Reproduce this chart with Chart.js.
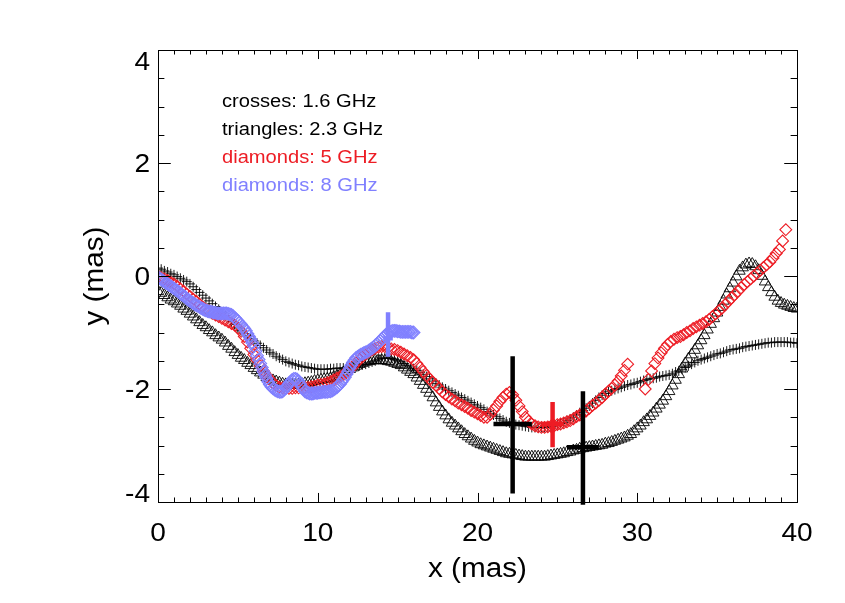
<!DOCTYPE html>
<html><head><meta charset="utf-8">
<script src="https://cdn.jsdelivr.net/npm/chart.js@4"></script>
<style>html,body{margin:0;padding:0;background:#fff;}canvas{display:block;}</style>
</head><body>
<canvas id="c" width="845" height="603"></canvas>
<script>
// ---------------- data ----------------
const xTicks = [0, 10, 20, 30, 40];
const xTickLabels = ['0', '10', '20', '30', '40'];
const yTicks = [-4, -2, 0, 2, 4];
const yTickLabels = ['-4', '-2', '0', '2', '4'];
const xTitle = 'x (mas)';
const yTitle = 'y (mas)';
const legendLines = ['crosses: 1.6 GHz', 'triangles: 2.3 GHz', 'diamonds: 5 GHz', 'diamonds: 8 GHz'];

// 1.6 GHz (crosses) and 2.3 GHz (triangles) read at the same x positions
const blackX = [0,0.2,0.4,0.6,0.8,1,1.2,1.4,1.6,1.8,
2,2.2,2.4,2.6,2.8,3,3.2,3.4,3.6,3.8,
4,4.2,4.4,4.6,4.8,5,5.2,5.4,5.6,5.8,
6,6.2,6.4,6.6,6.8,7,7.2,7.4,7.6,7.8,
8,8.2,8.4,8.6,8.8,9,9.2,9.4,9.6,9.8,
10,10.2,10.4,10.6,10.8,11,11.2,11.4,11.6,11.8,
12,12.2,12.4,12.6,12.8,13,13.2,13.4,13.6,13.8,
14,14.2,14.4,14.6,14.8,15,15.2,15.4,15.6,15.8,
16,16.2,16.4,16.6,16.8,17,17.2,17.4,17.6,17.8,
18,18.2,18.4,18.6,18.8,19,19.2,19.4,19.6,19.8,
20,20.2,20.4,20.6,20.8,21,21.2,21.4,21.6,21.8,
22,22.2,22.4,22.6,22.8,23,23.2,23.4,23.6,23.8,
24,24.2,24.4,24.6,24.8,25,25.2,25.4,25.6,25.8,
26,26.2,26.4,26.6,26.8,27,27.2,27.4,27.6,27.8,
28,28.2,28.4,28.6,28.8,29,29.2,29.4,29.6,29.8,
30,30.2,30.4,30.6,30.8,31,31.2,31.4,31.6,31.8,
32,32.2,32.4,32.6,32.8,33,33.2,33.4,33.6,33.8,
34,34.2,34.4,34.6,34.8,35,35.2,35.4,35.6,35.8,
36,36.2,36.4,36.6,36.8,37,37.2,37.4,37.6,37.8,
38,38.2,38.4,38.6,38.8,39,39.2,39.4,39.6,39.8,
40];
const crossY = [0.14,0.12,0.09,0.07,0.04,0.02,-0.01,-0.04,-0.07,-0.1,
-0.14,-0.19,-0.24,-0.29,-0.34,-0.39,-0.44,-0.49,-0.54,-0.59,
-0.64,-0.7,-0.75,-0.81,-0.86,-0.92,-0.97,-1.02,-1.06,-1.11,
-1.15,-1.19,-1.23,-1.27,-1.31,-1.35,-1.38,-1.42,-1.45,-1.48,
-1.51,-1.53,-1.55,-1.57,-1.58,-1.6,-1.61,-1.62,-1.63,-1.64,
-1.65,-1.65,-1.65,-1.65,-1.64,-1.64,-1.63,-1.63,-1.63,-1.62,
-1.62,-1.61,-1.6,-1.59,-1.57,-1.56,-1.54,-1.52,-1.5,-1.48,
-1.46,-1.45,-1.45,-1.46,-1.48,-1.5,-1.52,-1.55,-1.58,-1.61,
-1.64,-1.67,-1.71,-1.74,-1.78,-1.82,-1.86,-1.9,-1.93,-1.97,
-2.0,-2.03,-2.06,-2.09,-2.12,-2.15,-2.18,-2.21,-2.24,-2.27,
-2.3,-2.33,-2.36,-2.4,-2.43,-2.46,-2.49,-2.52,-2.55,-2.58,
-2.6,-2.62,-2.63,-2.64,-2.65,-2.66,-2.67,-2.68,-2.68,-2.68,
-2.68,-2.68,-2.67,-2.66,-2.65,-2.63,-2.61,-2.59,-2.56,-2.53,
-2.5,-2.46,-2.42,-2.38,-2.34,-2.3,-2.25,-2.2,-2.15,-2.11,
-2.08,-2.05,-2.03,-2.01,-1.99,-1.97,-1.95,-1.93,-1.92,-1.9,
-1.89,-1.87,-1.85,-1.83,-1.82,-1.81,-1.8,-1.78,-1.77,-1.76,
-1.75,-1.73,-1.7,-1.68,-1.65,-1.62,-1.59,-1.56,-1.53,-1.5,
-1.48,-1.46,-1.44,-1.42,-1.4,-1.38,-1.37,-1.35,-1.33,-1.31,
-1.3,-1.29,-1.28,-1.26,-1.25,-1.24,-1.23,-1.22,-1.21,-1.2,
-1.19,-1.18,-1.18,-1.17,-1.17,-1.17,-1.17,-1.17,-1.18,-1.18,
-1.19];
const triY = [-0.27,-0.3,-0.34,-0.38,-0.42,-0.45,-0.49,-0.53,-0.58,-0.62,
-0.67,-0.72,-0.77,-0.82,-0.87,-0.91,-0.96,-1.0,-1.05,-1.09,
-1.13,-1.18,-1.24,-1.29,-1.35,-1.4,-1.45,-1.49,-1.54,-1.58,
-1.63,-1.67,-1.71,-1.75,-1.79,-1.82,-1.85,-1.87,-1.89,-1.91,
-1.92,-1.93,-1.93,-1.93,-1.92,-1.91,-1.9,-1.89,-1.88,-1.86,
-1.85,-1.84,-1.83,-1.82,-1.81,-1.79,-1.77,-1.74,-1.71,-1.68,
-1.65,-1.62,-1.59,-1.56,-1.54,-1.52,-1.51,-1.5,-1.49,-1.49,
-1.49,-1.5,-1.51,-1.52,-1.54,-1.56,-1.58,-1.62,-1.66,-1.7,
-1.74,-1.8,-1.86,-1.93,-2.0,-2.07,-2.15,-2.24,-2.32,-2.4,
-2.47,-2.54,-2.6,-2.65,-2.7,-2.75,-2.8,-2.84,-2.88,-2.92,
-2.95,-2.98,-3.0,-3.02,-3.04,-3.06,-3.08,-3.1,-3.12,-3.14,
-3.15,-3.16,-3.17,-3.18,-3.19,-3.2,-3.2,-3.2,-3.2,-3.2,
-3.2,-3.2,-3.19,-3.18,-3.17,-3.16,-3.15,-3.14,-3.12,-3.11,
-3.09,-3.08,-3.06,-3.05,-3.04,-3.03,-3.02,-3.01,-3.0,-2.99,
-2.97,-2.96,-2.94,-2.92,-2.9,-2.88,-2.86,-2.83,-2.8,-2.75,
-2.7,-2.65,-2.59,-2.54,-2.48,-2.42,-2.35,-2.28,-2.21,-2.13,
-2.04,-1.94,-1.84,-1.74,-1.64,-1.55,-1.47,-1.39,-1.31,-1.23,
-1.14,-1.05,-0.95,-0.85,-0.75,-0.65,-0.55,-0.44,-0.33,-0.22,
-0.12,-0.01,0.09,0.15,0.2,0.22,0.21,0.17,0.1,0.0,
-0.1,-0.2,-0.29,-0.37,-0.44,-0.48,-0.51,-0.53,-0.55,-0.57,
-0.58];

// 5 GHz (red diamonds): two stretches, 0-29.4 and 30.5-39.3
const redX = [0,0.2,0.4,0.6,0.8,1,1.2,1.4,1.6,1.8,
2,2.2,2.4,2.6,2.8,3,3.2,3.4,3.6,3.8,
4,4.2,4.4,4.6,4.8,5,5.2,5.4,5.6,5.8,
6,6.2,6.4,6.6,6.8,7,7.2,7.4,7.6,7.8,
8,8.2,8.4,8.6,8.8,9,9.2,9.4,9.6,9.8,
10,10.2,10.4,10.6,10.8,11,11.2,11.4,11.6,11.8,
12,12.2,12.4,12.6,12.8,13,13.2,13.4,13.6,13.8,
14,14.2,14.4,14.6,14.8,15,15.2,15.4,15.6,15.8,
16,16.2,16.4,16.6,16.8,17,17.2,17.4,17.6,17.8,
18,18.2,18.4,18.6,18.8,19,19.2,19.4,19.6,19.8,
20,20.2,20.4,20.6,20.8,21,21.2,21.4,21.6,21.8,
22,22.2,22.4,22.6,22.8,23,23.2,23.4,23.6,23.8,
24,24.2,24.4,24.6,24.8,25,25.2,25.4,25.6,25.8,
26,26.2,26.4,26.6,26.8,27,27.2,27.4,27.6,27.8,
28,28.2,28.4,28.6,28.8,29,29.2,29.4,
30.5,30.7,30.9,31.1,31.3,31.5,31.7,31.9,32.1,32.3,
32.5,32.7,32.9,33.1,33.3,33.5,33.7,33.9,34.1,34.3,
34.5,34.7,34.9,35.1,35.3,35.5,35.7,35.9,36.1,36.3,
36.5,36.7,36.9,37.1,37.3,37.5,37.7,37.9,38.1,38.3,
38.5,38.7,38.9,39.1,39.3];
const redY = [0,-0.03,-0.05,-0.08,-0.11,-0.14,-0.18,-0.23,-0.27,-0.32,
-0.36,-0.41,-0.45,-0.5,-0.55,-0.59,-0.62,-0.66,-0.69,-0.72,
-0.75,-0.78,-0.81,-0.84,-0.87,-0.92,-0.98,-1.07,-1.17,-1.28,
-1.39,-1.49,-1.59,-1.68,-1.76,-1.83,-1.89,-1.94,-1.97,-1.98,
-1.99,-1.99,-1.99,-1.98,-1.98,-1.97,-1.97,-1.97,-1.96,-1.95,
-1.93,-1.92,-1.91,-1.89,-1.87,-1.84,-1.81,-1.78,-1.75,-1.71,
-1.66,-1.6,-1.54,-1.48,-1.43,-1.38,-1.34,-1.31,-1.28,-1.26,
-1.25,-1.25,-1.27,-1.29,-1.3,-1.32,-1.35,-1.38,-1.41,-1.44,
-1.48,-1.55,-1.62,-1.69,-1.76,-1.82,-1.88,-1.93,-1.99,-2.05,
-2.1,-2.14,-2.18,-2.21,-2.25,-2.28,-2.31,-2.34,-2.38,-2.41,
-2.44,-2.47,-2.5,-2.5,-2.45,-2.37,-2.3,-2.22,-2.15,-2.09,
-2.06,-2.1,-2.2,-2.3,-2.4,-2.5,-2.57,-2.62,-2.65,-2.67,
-2.68,-2.68,-2.67,-2.66,-2.65,-2.63,-2.62,-2.6,-2.58,-2.56,
-2.53,-2.49,-2.46,-2.43,-2.39,-2.34,-2.29,-2.25,-2.2,-2.15,
-2.09,-2.04,-1.99,-1.93,-1.86,-1.77,-1.67,-1.56,
-2.0,-1.83,-1.68,-1.55,-1.45,-1.36,-1.28,-1.21,-1.16,-1.12,
-1.09,-1.07,-1.04,-1.0,-0.97,-0.93,-0.9,-0.87,-0.84,-0.81,
-0.77,-0.72,-0.67,-0.62,-0.57,-0.51,-0.45,-0.39,-0.33,-0.27,
-0.21,-0.15,-0.1,-0.05,0.0,0.05,0.1,0.15,0.2,0.25,
0.32,0.4,0.47,0.62,0.82];

// 8 GHz (blue diamonds)
const blueX = [0,0.1,0.2,0.3,0.4,0.5,0.6,0.7,0.8,0.9,
1,1.1,1.2,1.3,1.4,1.5,1.6,1.7,1.8,1.9,
2,2.1,2.2,2.3,2.4,2.5,2.6,2.7,2.8,2.9,
3,3.1,3.2,3.3,3.4,3.5,3.6,3.7,3.8,3.9,
4,4.1,4.2,4.3,4.4,4.5,4.6,4.7,4.8,4.9,
5,5.1,5.2,5.3,5.4,5.5,5.6,5.7,5.8,5.9,
6,6.1,6.2,6.3,6.4,6.5,6.6,6.7,6.8,6.9,
7,7.1,7.2,7.3,7.4,7.5,7.6,7.7,7.8,7.9,
8,8.1,8.2,8.3,8.4,8.5,8.6,8.7,8.8,8.9,
9,9.1,9.2,9.3,9.4,9.5,9.6,9.7,9.8,9.9,
10,10.1,10.2,10.3,10.4,10.5,10.6,10.7,10.8,10.9,
11,11.1,11.2,11.3,11.4,11.5,11.6,11.7,11.8,11.9,
12,12.1,12.2,12.3,12.4,12.5,12.6,12.7,12.8,12.9,
13,13.1,13.2,13.3,13.4,13.5,13.6,13.7,13.8,13.9,
14,14.1,14.2,14.3,14.4,14.5,14.6,14.7,14.8,14.9,
15,15.1,15.2,15.3,15.4,15.5,15.6,15.7,15.8,15.9,
16];
const blueY = [-0.03,-0.04,-0.06,-0.08,-0.1,-0.12,-0.14,-0.16,-0.18,-0.2,
-0.22,-0.24,-0.26,-0.28,-0.31,-0.33,-0.35,-0.37,-0.4,-0.42,
-0.44,-0.46,-0.48,-0.5,-0.52,-0.53,-0.55,-0.57,-0.58,-0.6,
-0.61,-0.62,-0.63,-0.63,-0.64,-0.65,-0.65,-0.66,-0.66,-0.66,
-0.66,-0.66,-0.66,-0.66,-0.67,-0.68,-0.69,-0.71,-0.74,-0.77,
-0.8,-0.83,-0.86,-0.9,-0.93,-0.97,-1.02,-1.07,-1.12,-1.18,
-1.24,-1.33,-1.41,-1.48,-1.55,-1.62,-1.69,-1.75,-1.81,-1.87,
-1.92,-1.96,-1.99,-2.01,-2.03,-2.04,-2.05,-2.05,-2.04,-2.01,
-1.98,-1.94,-1.9,-1.87,-1.84,-1.82,-1.82,-1.83,-1.86,-1.91,
-1.96,-2.0,-2.04,-2.06,-2.07,-2.08,-2.08,-2.08,-2.07,-2.07,
-2.07,-2.06,-2.06,-2.05,-2.05,-2.05,-2.05,-2.04,-2.04,-2.03,
-2.01,-1.99,-1.97,-1.94,-1.91,-1.87,-1.83,-1.79,-1.74,-1.69,
-1.63,-1.58,-1.53,-1.49,-1.45,-1.43,-1.41,-1.39,-1.38,-1.36,
-1.35,-1.34,-1.32,-1.3,-1.28,-1.26,-1.23,-1.21,-1.18,-1.15,
-1.12,-1.09,-1.06,-1.03,-1.01,-0.99,-0.98,-0.97,-0.97,-0.97,
-0.98,-0.98,-0.99,-0.99,-0.99,-0.99,-0.99,-0.99,-0.99,-1.0,
-1.0];

// error bars: centre, x extent, y extent, and which band they belong to
const errX    = [22.2, 26.6, 24.7, 14.4];
const errY    = [-2.62, -3.03, -2.62, -1.1];
const errXLo  = [21.0, 25.6, 24.0, 14.1];
const errXHi  = [23.4, 27.6, 25.4, 14.7];
const errYLo  = [-3.85, -4.05, -3.03, -1.43];
const errYHi  = [-1.42, -2.04, -2.23, -0.64];
const errBand = ['1.6 GHz', '1.6 GHz', '5 GHz', '8 GHz'];

// ---------------- styles ----------------
const RED = 'rgb(237,28,36)';
const BLUE = 'rgb(128,128,255)';
const BLACK = '#000';
const bandColor = {'1.6 GHz': BLACK, '2.3 GHz': BLACK, '5 GHz': RED, '8 GHz': BLUE};
const legendColors = [BLACK, BLACK, RED, BLUE];
const FONT = '"Liberation Sans", Arial, Helvetica, sans-serif';

function pts(xs, ys) { return xs.map((x, i) => ({x: x, y: ys[i]})); }

function txt(ctx, s, x, y, align, base, size, color, sx) {
  ctx.save();
  ctx.translate(x, y);
  ctx.scale(sx, 1);
  ctx.font = size + 'px ' + FONT;
  ctx.textAlign = align;
  ctx.textBaseline = base;
  ctx.fillStyle = color;
  ctx.fillText(s, 0, 0);
  ctx.restore();
}

const idlAxes = {
  id: 'idlAxes',
  afterDatasetsDraw(chart) {
    const ctx = chart.ctx;
    const xs = chart.scales.x, ys = chart.scales.y;
    ctx.save();
    ctx.lineCap = 'butt';
    for (let i = 0; i < errX.length; i++) {
      ctx.strokeStyle = bandColor[errBand[i]];
      ctx.lineWidth = 4.5;
      const px = xs.getPixelForValue(errX[i]);
      const py = ys.getPixelForValue(errY[i]);
      ctx.beginPath();
      ctx.moveTo(px, ys.getPixelForValue(errYLo[i]));
      ctx.lineTo(px, ys.getPixelForValue(errYHi[i]));
      ctx.moveTo(xs.getPixelForValue(errXLo[i]), py);
      ctx.lineTo(xs.getPixelForValue(errXHi[i]), py);
      ctx.stroke();
    }
    ctx.restore();
  },
  afterDraw(chart) {
    const ctx = chart.ctx, a = chart.chartArea;
    const xs = chart.scales.x, ys = chart.scales.y;
    ctx.save();
    ctx.strokeStyle = '#000';
    ctx.lineWidth = 1;
    ctx.strokeRect(Math.round(a.left) + 0.5, Math.round(a.top) + 0.5,
                   Math.round(a.right - a.left), Math.round(a.bottom - a.top));
    const W = a.right - a.left, H = a.bottom - a.top;
    const yMaj = 0.02 * W, yMin = 0.01 * W, xMaj = 0.02 * H, xMin = 0.01 * H;
    ctx.beginPath();
    for (let k = 0; k <= 16; k++) {
      const v = ys.min + k * 0.5;
      const py = Math.round(ys.getPixelForValue(v)) + 0.5;
      const len = (k % 4 === 0) ? yMaj : yMin;
      ctx.moveTo(a.left, py); ctx.lineTo(a.left + len, py);
      ctx.moveTo(a.right, py); ctx.lineTo(a.right - len, py);
    }
    for (let k = 0; k <= 40; k++) {
      const v = xs.min + k;
      const px = Math.round(xs.getPixelForValue(v)) + 0.5;
      const len = (k % 10 === 0) ? xMaj : xMin;
      ctx.moveTo(px, a.bottom); ctx.lineTo(px, a.bottom - len);
      ctx.moveTo(px, a.top); ctx.lineTo(px, a.top + len);
    }
    ctx.stroke();
    ctx.restore();

    xTicks.forEach((v, i) => {
      txt(ctx, xTickLabels[i], xs.getPixelForValue(v), a.bottom + 39, 'center', 'alphabetic', 26, '#000', 1.08);
    });
    yTicks.forEach((v, i) => {
      let base = ys.getPixelForValue(v) + 9;
      base = Math.max(a.top + 20, Math.min(a.bottom, base));
      txt(ctx, yTickLabels[i], a.left - 8, base, 'right', 'alphabetic', 26, '#000', 1.08);
    });
    txt(ctx, xTitle, (a.left + a.right) / 2, a.bottom + 75, 'center', 'alphabetic', 27, '#000', 1.1);
    ctx.save();
    ctx.translate(a.left - 55, (a.top + a.bottom) / 2);
    ctx.rotate(-Math.PI / 2);
    txt(ctx, yTitle, 0, 0, 'center', 'alphabetic', 27, '#000', 1.1);
    ctx.restore();
    legendLines.forEach((s, i) => {
      txt(ctx, s, a.left + 64, a.top + 56.7 + 28 * i, 'left', 'alphabetic', 17.5, legendColors[i], 1.15);
    });
  }
};

new Chart(document.getElementById('c'), {
  type: 'scatter',
  data: {
    datasets: [
      {label: '8 GHz', data: pts(blueX, blueY), pointStyle: 'rectRot', radius: 6.3,
       borderColor: BLUE, backgroundColor: 'rgba(0,0,0,0)', borderWidth: 1.2, clip: 0},
      {label: '5 GHz', data: pts(redX, redY), pointStyle: 'rectRot', radius: 5.9,
       borderColor: RED, backgroundColor: 'rgba(0,0,0,0)', borderWidth: 1.1, clip: 0},
      {label: '2.3 GHz', data: pts(blackX, triY), pointStyle: 'triangle', radius: 6.6,
       borderColor: BLACK, backgroundColor: 'rgba(0,0,0,0)', borderWidth: 0.9, clip: 0},
      {label: '1.6 GHz', data: pts(blackX, crossY), pointStyle: 'cross', radius: 5,
       borderColor: BLACK, backgroundColor: 'rgba(0,0,0,0)', borderWidth: 0.9, clip: 0}
    ]
  },
  options: {
    responsive: false,
    devicePixelRatio: 1,
    animation: false,
    events: [],
    layout: {padding: {left: 158, top: 50, right: 48, bottom: 101}},
    plugins: {legend: {display: false}, tooltip: {enabled: false}},
    scales: {
      x: {type: 'linear', min: 0, max: 40, display: false},
      y: {type: 'linear', min: -4, max: 4, display: false}
    }
  },
  plugins: [idlAxes]
});
</script>
</body></html>
